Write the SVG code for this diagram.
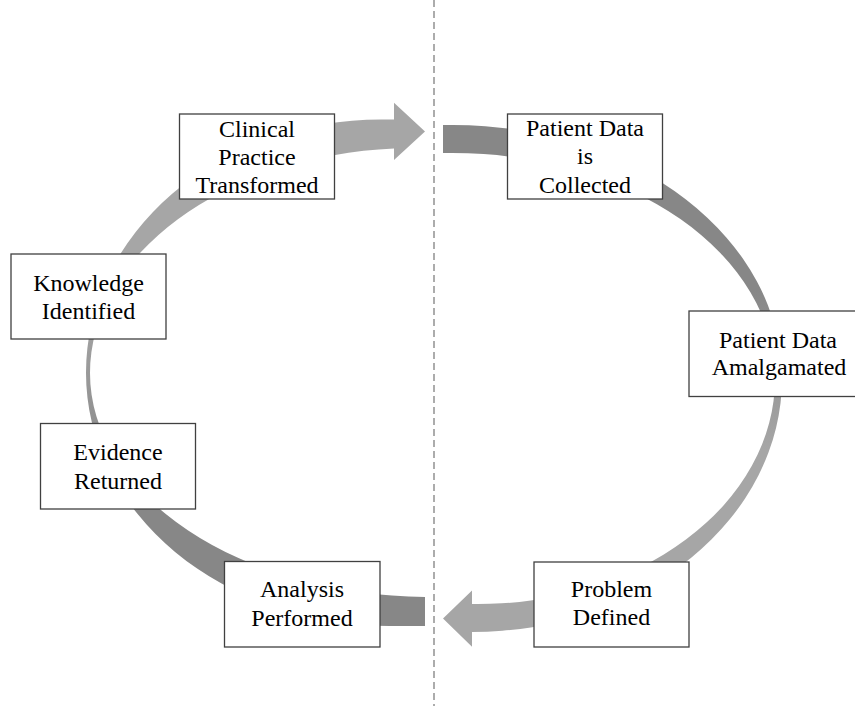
<svg xmlns="http://www.w3.org/2000/svg" width="855" height="706" viewBox="0 0 855 706">
<style>
.box{fill:#ffffff;stroke:#404040;stroke-width:1.3}
.lbl{font-family:"Liberation Serif","Times New Roman",serif;font-size:24px;fill:#000;text-anchor:middle}
.divider{stroke:#808080;stroke-width:1.3;stroke-dasharray:7 4;fill:none}
</style>
<defs>
<linearGradient id="gLeft" gradientUnits="userSpaceOnUse" x1="0" y1="300" x2="0" y2="480">
<stop offset="0" stop-color="#a6a6a6"/>
<stop offset="1" stop-color="#878787"/>
</linearGradient>
<linearGradient id="gRight" gradientUnits="userSpaceOnUse" x1="0" y1="290" x2="0" y2="450">
<stop offset="0" stop-color="#878787"/>
<stop offset="1" stop-color="#a6a6a6"/>
</linearGradient>
</defs>
<line class="divider" x1="434" y1="0" x2="434" y2="706"/>
<g id="connectors">
<path id="arrow-left" fill="url(#gLeft)" d="M 425 597 L 425 626 L 390 626 A 304 253 0 0 1 86 373 A 295 253 0 0 1 381 119.5 L 394 119.5 L 394 102.7 L 425 131.5 L 394 160 L 394 148.5 A 325 225 0 0 0 90 373 A 340 224 0 0 0 425 597 Z"/>
<path id="arrow-right" fill="url(#gRight)" d="M 443 125 L 453 125 A 329 253.5 0 0 1 782 378.5 A 310 253.5 0 0 1 472 632 L 472 646.7 L 443 618.5 L 472 590.5 L 472 604 A 297 225.5 0 0 0 775 378.5 A 323 225.5 0 0 0 452 153 L 443 153 Z"/>
</g>
<g id="clinical-practice-transformed">
<rect class="box" x="179.5" y="114" width="155" height="85"/>
<text class="lbl" x="257" y="136.5">Clinical</text>
<text class="lbl" x="257" y="164.5">Practice</text>
<text class="lbl" x="257" y="192.5">Transformed</text>
</g>
<g id="patient-data-collected">
<rect class="box" x="507.5" y="114" width="155" height="85"/>
<text class="lbl" x="585" y="136">Patient Data</text>
<text class="lbl" x="585" y="164">is</text>
<text class="lbl" x="585" y="192.5">Collected</text>
</g>
<g id="patient-data-amalgamated">
<rect class="box" x="689" y="311" width="180" height="85.5"/>
<text class="lbl" x="778" y="347.5">Patient Data</text>
<text class="lbl" x="779" y="375">Amalgamated</text>
</g>
<g id="problem-defined">
<rect class="box" x="534" y="562" width="155" height="85"/>
<text class="lbl" x="611.5" y="596.5">Problem</text>
<text class="lbl" x="611.5" y="625">Defined</text>
</g>
<g id="analysis-performed">
<rect class="box" x="224.5" y="561.5" width="155.5" height="85.5"/>
<text class="lbl" x="302" y="596.5">Analysis</text>
<text class="lbl" x="302" y="625.5">Performed</text>
</g>
<g id="evidence-returned">
<rect class="box" x="40.5" y="423.5" width="155" height="85.5"/>
<text class="lbl" x="118" y="460">Evidence</text>
<text class="lbl" x="118" y="488.5">Returned</text>
</g>
<g id="knowledge-identified">
<rect class="box" x="11" y="254" width="155" height="85"/>
<text class="lbl" x="88.5" y="290.5">Knowledge</text>
<text class="lbl" x="88.5" y="319">Identified</text>
</g>
</svg>
